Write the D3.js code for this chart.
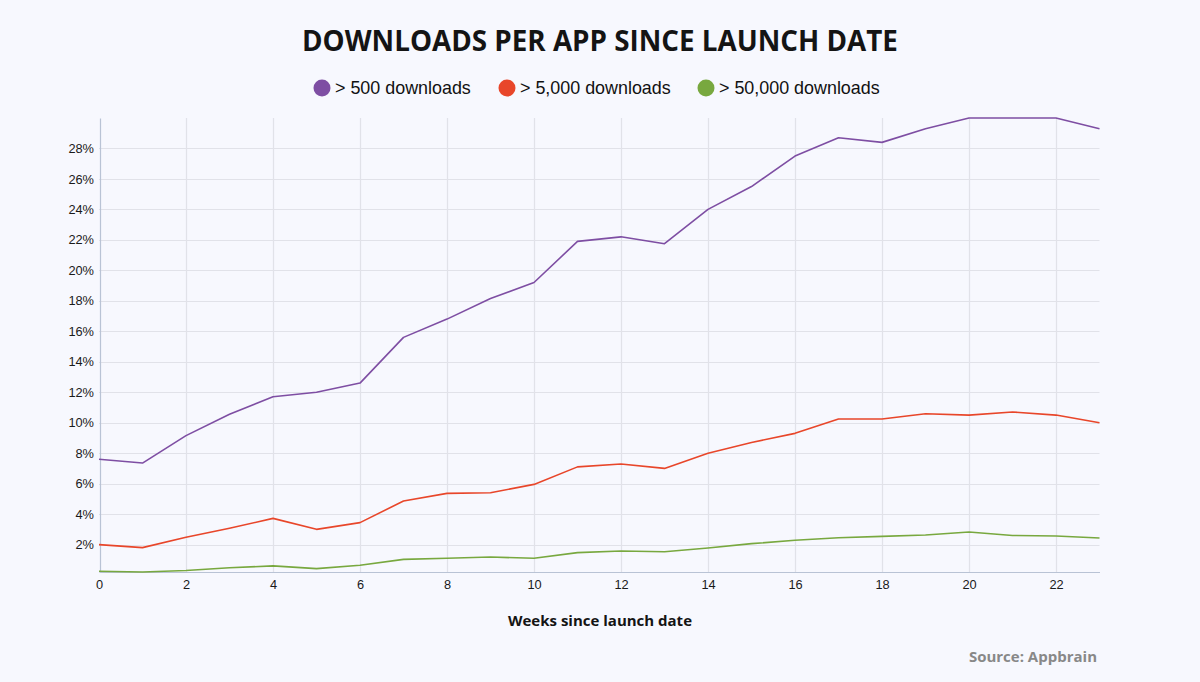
<!DOCTYPE html>
<html>
<head>
<meta charset="utf-8">
<script src="https://cdn.jsdelivr.net/npm/d3@7"></script>
<style>
  html, body { margin: 0; padding: 0; background: #f7f8fe; }
  svg { display: block; }
</style>
</head>
<body>
<svg id="chart" width="1200" height="682"></svg>
<script>
const weeks = d3.range(0, 24);
const seriesNames = ["> 500 downloads", "> 5,000 downloads", "> 50,000 downloads"];
const seriesColors = ["#7e4ea3", "#e8462a", "#78a83f"];
const s500 = [7.6, 7.35, 9.15, 10.55, 11.7, 12.0, 12.6, 15.6, 16.8, 18.15, 19.2, 21.9, 22.2, 21.75, 24.0, 25.5, 27.5, 28.7, 28.4, 29.3, 30.0, 30.0, 30.0, 29.3];
const s5000 = [2.0, 1.8, 2.48, 3.07, 3.72, 3.0, 3.44, 4.86, 5.36, 5.4, 5.95, 7.1, 7.29, 7.0, 8.0, 8.7, 9.3, 10.24, 10.24, 10.59, 10.5, 10.7, 10.5, 10.0];
const s50000 = [0.25, 0.2, 0.3, 0.48, 0.6, 0.42, 0.64, 1.03, 1.1, 1.18, 1.1, 1.47, 1.58, 1.53, 1.78, 2.06, 2.28, 2.45, 2.54, 2.63, 2.83, 2.6, 2.56, 2.43];
const yTicks = [2, 4, 6, 8, 10, 12, 14, 16, 18, 20, 22, 24, 26, 28];
const xTicks = [0, 2, 4, 6, 8, 10, 12, 14, 16, 18, 20, 22];

const svg = d3.select("#chart");
svg.append("rect").attr("width", 1200).attr("height", 682).attr("fill", "#f7f8fe");

const pLeft = 99, pRight = 1099.5, pTop = 118, pBottom = 572;
const x = d3.scaleLinear().domain([0, 23]).range([pLeft, pRight]);
const y = d3.scaleLinear().domain([0.2, 30]).range([pBottom, pTop]);

// gridlines
svg.append("g").selectAll("line").data(yTicks).join("line")
  .attr("x1", pLeft).attr("x2", pRight)
  .attr("y1", d => Math.round(y(d)) + 0.5).attr("y2", d => Math.round(y(d)) + 0.5)
  .attr("stroke", "#e1e2e9").attr("stroke-width", 1.2);
svg.append("g").selectAll("line").data(xTicks.filter(d => d > 0)).join("line")
  .attr("y1", pTop).attr("y2", pBottom)
  .attr("x1", d => Math.round(x(d)) + 0.5).attr("x2", d => Math.round(x(d)) + 0.5)
  .attr("stroke", "#e1e2e9").attr("stroke-width", 1.2);

// axes
const yAxis = d3.axisLeft(y).tickValues(yTicks).tickSize(0).tickPadding(6).tickFormat(d => d + "%");
const gy = svg.append("g").attr("transform", `translate(${pLeft + 1},0)`).call(yAxis);
gy.select(".domain").attr("stroke", "#b9c3d5").attr("stroke-width", 1.2);
gy.selectAll("text").attr("font-family", "Liberation Sans, Arial, sans-serif").attr("font-size", 12.8).attr("fill", "#1a1a1a");

const xAxis = d3.axisBottom(x).tickValues(xTicks).tickSize(0).tickPadding(8).tickFormat(d3.format("d"));
const gx = svg.append("g").attr("transform", `translate(0,${pBottom})`).call(xAxis);
gx.select(".domain").attr("stroke", "#b9c3d5").attr("stroke-width", 1.2);
gx.selectAll("text").attr("font-family", "Liberation Sans, Arial, sans-serif").attr("font-size", 12.8).attr("fill", "#1a1a1a");

// lines
const line = d3.line().x((d, i) => x(weeks[i])).y(d => y(d));
[s500, s5000, s50000].forEach((s, i) => {
  svg.append("path").datum(s).attr("d", line)
    .attr("fill", "none").attr("stroke", seriesColors[i]).attr("stroke-width", 1.6)
    .attr("stroke-linejoin", "round");
});

// title
svg.append("text").attr("x", 600).attr("y", 51).attr("text-anchor", "middle")
  .attr("font-family", "Open Sans, sans-serif").attr("font-weight", 700).attr("font-size", 27.8)
  .attr("fill", "#141414").text("DOWNLOADS PER APP SINCE LAUNCH DATE");

// legend
const legendX = [322, 507, 706];
const lg = svg.append("g");
seriesNames.forEach((n, i) => {
  lg.append("circle").attr("cx", legendX[i]).attr("cy", 88).attr("r", 8.5).attr("fill", seriesColors[i]);
  lg.append("text").attr("x", legendX[i] + 13).attr("y", 94)
    .attr("font-family", "Liberation Sans, Arial, sans-serif").attr("font-size", 17.9)
    .attr("fill", "#111").text(n);
});

// axis title
svg.append("text").attr("x", 600).attr("y", 626).attr("text-anchor", "middle")
  .attr("font-family", "Open Sans, sans-serif").attr("font-weight", 700).attr("font-size", 15)
  .attr("fill", "#141414").text("Weeks since launch date");

// source
svg.append("text").attr("x", 1097).attr("y", 662).attr("text-anchor", "end")
  .attr("font-family", "Open Sans, sans-serif").attr("font-weight", 700).attr("font-size", 15)
  .attr("fill", "#888").text("Source: Appbrain");
</script>
</body>
</html>
